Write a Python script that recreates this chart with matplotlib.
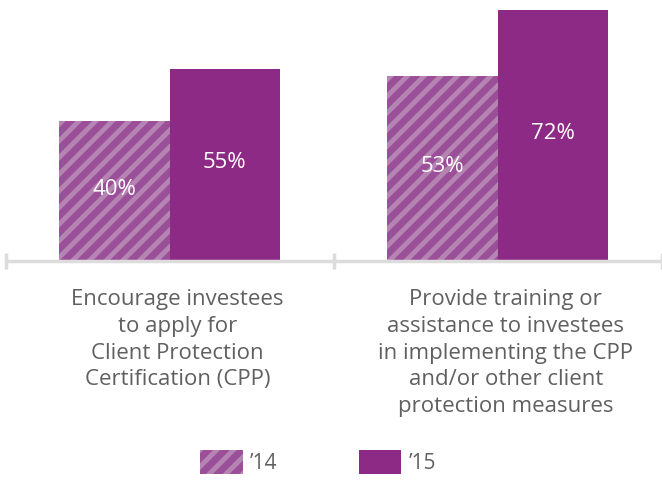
import matplotlib.pyplot as plt
from matplotlib.patches import Patch
from matplotlib.transforms import blended_transform_factory

# data
categories = ['Encourage investees\nto apply for\nClient Protection\nCertification (CPP)',
              'Provide training or\nassistance to investees\nin implementing the CPP\nand/or other client\nprotection measures']
values_14 = [40, 53]
values_15 = [55, 72]
series_names = ['\u201914', '\u201915']

plt.rcParams['font.family'] = ['Open Sans', 'DejaVu Sans']
plt.rcParams['hatch.linewidth'] = 3.5
plt.rcParams['hatch.color'] = '#b584b3'

solid = '#8d2a85'
hatched = '#9c4f99'
grey_text = '#606060'
axis_grey = '#dcdcdc'

fig = plt.figure(figsize=(6.62, 4.82), dpi=100)
ax = fig.add_axes([5.5 / 662, (482 - 261) / 482, 656 / 662, 261 / 482])

x = list(range(len(categories)))
w = 0.336
b1 = ax.bar([i - w / 2 for i in x], values_14, width=w, color=hatched,
            hatch='//', edgecolor='#b584b3', linewidth=0)
b2 = ax.bar([i + w / 2 for i in x], values_15, width=w, color=solid, linewidth=0)

for bars, vals in [(b1, values_14), (b2, values_15)]:
    for bar, v in zip(bars, vals):
        ax.text(bar.get_x() + bar.get_width() / 2, v / 2 + 0.6, f'{v}%',
                ha='center', va='center', color='white', fontsize=16,
                zorder=5)

ax.set_xlim(-0.5, 1.5)
ax.set_ylim(0, 261 / 3.49)
for s in ['top', 'right', 'left']:
    ax.spines[s].set_visible(False)
ax.spines['bottom'].set_color(axis_grey)
ax.spines['bottom'].set_linewidth(2.5)
ax.set_yticks([])
ax.set_xticks([-0.5, 0.5, 1.5])
ax.set_xticklabels([])
ax.tick_params(axis='x', direction='inout', length=11, width=2.5, color=axis_grey)
ax.spines['bottom'].set_clip_on(False)

trans = blended_transform_factory(ax.transData, fig.transFigure)
for i, lab in enumerate(categories):
    ax.text(i + 0.025, 1 - 289 / 482, lab, transform=trans, ha='center', va='top',
            fontsize=16, color=grey_text, linespacing=1.36)

handles = [Patch(facecolor=hatched, hatch='//', edgecolor='#b584b3', linewidth=0),
           Patch(facecolor=solid, linewidth=0)]
fig.legend(handles, series_names, loc='center', bbox_to_anchor=(318 / 662, 1 - 462 / 482),
           ncol=2, frameon=False, fontsize=15, labelcolor=grey_text,
           handlelength=2.05, handleheight=1.35, handletextpad=0.35, columnspacing=3.9)

fig.savefig('out.png', dpi=100)
